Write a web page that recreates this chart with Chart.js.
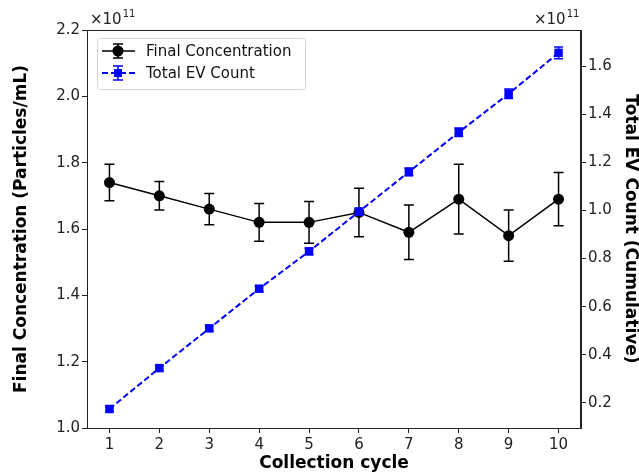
<!DOCTYPE html>
<html>
<head>
<meta charset="utf-8">
<script src="https://cdn.jsdelivr.net/npm/chart.js@4/dist/chart.umd.min.js"></script>
<style>
    html, body { margin: 0; padding: 0; background: #fff; }
    #wrap { width: 639px; height: 472px; }
</style>
</head>
<body>
<div id="wrap"><canvas id="evChart" width="639" height="472"></canvas></div>
<script>
// values are in units of 1e11
const cycles = [1, 2, 3, 4, 5, 6, 7, 8, 9, 10];
const concentration = [1.74, 1.70, 1.66, 1.62, 1.62, 1.65, 1.59, 1.69, 1.58, 1.69];
const concentrationErr = [0.055, 0.043, 0.047, 0.057, 0.063, 0.073, 0.082, 0.105, 0.077, 0.08];
const evCount = [0.175, 0.345, 0.51, 0.675, 0.83, 0.995, 1.16, 1.325, 1.485, 1.655];
const evCountErr = [0.01, 0.011, 0.012, 0.012, 0.013, 0.014, 0.016, 0.018, 0.02, 0.024];
const leftTicks = [1.0, 1.2, 1.4, 1.6, 1.8, 2.0, 2.2];
const rightTicks = [0.2, 0.4, 0.6, 0.8, 1.0, 1.2, 1.4, 1.6];

const FONT = 'DejaVu Sans';
const AXIS = '#222';

// error bars drawn right before each dataset
const errorBars = {
    id: 'errorBars',
    beforeDatasetDraw(chart, args) {
        const ds = chart.data.datasets[args.index];
        if (!ds.errors) return;
        const ctx = chart.ctx;
        const xs = chart.scales.x;
        const ys = chart.scales[ds.yAxisID];
        ctx.save();
        ctx.strokeStyle = ds.borderColor;
        ctx.lineWidth = ds.errWidth;
        ctx.setLineDash([]);
        ds.data.forEach((p, i) => {
            const x = xs.getPixelForValue(p.x);
            const y1 = ys.getPixelForValue(p.y - ds.errors[i]);
            const y2 = ys.getPixelForValue(p.y + ds.errors[i]);
            const c = ds.capHalf;
            ctx.beginPath();
            ctx.moveTo(x, y1); ctx.lineTo(x, y2);
            ctx.moveTo(x - c, y1); ctx.lineTo(x + c, y1);
            ctx.moveTo(x - c, y2); ctx.lineTo(x + c, y2);
            ctx.stroke();
        });
        ctx.restore();
    }
};

// frame, exponent labels and legend box
const decorations = {
    id: 'decorations',
    afterDraw(chart) {
        const ctx = chart.ctx;
        const a = chart.chartArea;
        ctx.save();
        ctx.strokeStyle = AXIS;
        ctx.lineWidth = 1;
        ctx.strokeRect(a.left + 0.5, a.top + 0.5, a.right - a.left - 1, a.bottom - a.top);

        // x10^11 offset labels
        ctx.fillStyle = '#222';
        ctx.textBaseline = 'alphabetic';
        ctx.textAlign = 'left';
        const drawExp = (x) => {
            ctx.font = '15px ' + FONT;
            ctx.fillText('\u00d710', x, 24);
            const w = ctx.measureText('\u00d710').width;
            ctx.font = '10px ' + FONT;
            ctx.fillText('11', x + w + 1, 17);
        };
        drawExp(a.left + 3);
        drawExp(a.right - 47);

        // legend
        const bx = 97, by = 38, bw = 208, bh = 51;
        ctx.beginPath();
        ctx.roundRect(bx + 0.5, by + 0.5, bw, bh, 3);
        ctx.fillStyle = 'rgba(255,255,255,0.85)';
        ctx.fill();
        ctx.strokeStyle = '#d4d4d4';
        ctx.stroke();

        const rows = [
            { label: 'Final Concentration', color: '#000', dash: [], marker: 'circle', y: 51, lw: 1.5 },
            { label: 'Total EV Count', color: '#0000ff', dash: [6, 3], marker: 'rect', y: 73, lw: 2 }
        ];
        rows.forEach(r => {
            ctx.strokeStyle = r.color;
            ctx.fillStyle = r.color;
            ctx.lineWidth = r.lw;
            ctx.setLineDash(r.dash);
            ctx.beginPath();
            ctx.moveTo(102, r.y); ctx.lineTo(135, r.y);
            ctx.stroke();
            ctx.setLineDash([]);
            ctx.lineWidth = 1.5;
            ctx.beginPath();
            ctx.moveTo(118, r.y - 7); ctx.lineTo(118, r.y + 7);
            ctx.moveTo(113, r.y - 7); ctx.lineTo(123, r.y - 7);
            ctx.moveTo(113, r.y + 7); ctx.lineTo(123, r.y + 7);
            ctx.stroke();
            ctx.beginPath();
            if (r.marker === 'circle') ctx.arc(118, r.y, 5.5, 0, Math.PI * 2);
            else ctx.rect(114, r.y - 4, 8, 8);
            ctx.fill();
            ctx.fillStyle = '#111';
            ctx.font = '15px ' + FONT;
            ctx.textBaseline = 'middle';
            ctx.fillText(r.label, 146, r.y + 1);
        });
        ctx.restore();
    }
};

const setTicks = (list) => (scale) => { scale.ticks = list.map(v => ({ value: v })); };

new Chart(document.getElementById('evChart'), {
    type: 'line',
    data: {
        datasets: [
            {
                label: 'Final Concentration',
                data: cycles.map((c, i) => ({ x: c, y: concentration[i] })),
                errors: concentrationErr,
                errWidth: 1.5,
                capHalf: 5,
                yAxisID: 'y',
                borderColor: '#000',
                backgroundColor: '#000',
                borderWidth: 1.5,
                pointStyle: 'circle',
                pointRadius: 5.5,
                pointBorderWidth: 0,
                order: 1
            },
            {
                label: 'Total EV Count',
                data: cycles.map((c, i) => ({ x: c, y: evCount[i] })),
                errors: evCountErr,
                errWidth: 1.5,
                capHalf: 4.5,
                yAxisID: 'y1',
                borderColor: '#0000ff',
                backgroundColor: '#0000ff',
                borderWidth: 2,
                borderDash: [6, 3],
                pointStyle: 'rect',
                pointRadius: 6,
                pointBorderWidth: 0,
                order: 0
            }
        ]
    },
    options: {
        responsive: false,
        animation: false,
        layout: { padding: { top: 30, left: 0, right: 0, bottom: 0 } },
        plugins: {
            legend: { display: false },
            tooltip: { enabled: false }
        },
        scales: {
            x: {
                type: 'linear',
                min: 0.55,
                max: 10.45,
                afterBuildTicks: setTicks(cycles),
                afterFit: (s) => { s.height = 44; },
                ticks: {
                    color: '#222',
                    font: { family: FONT, size: 15 },
                    padding: 3,
                    callback: (v) => String(v)
                },
                grid: { drawOnChartArea: false, drawTicks: true, tickLength: 5, color: AXIS },
                border: { color: AXIS },
                title: {
                    display: true,
                    text: 'Collection cycle',
                    color: '#000',
                    font: { family: FONT, size: 17, weight: 'bold', lineHeight: 1 },
                    padding: { top: 0, bottom: 0 }
                }
            },
            y: {
                position: 'left',
                min: 1.0,
                max: 2.2,
                afterBuildTicks: setTicks(leftTicks),
                afterFit: (s) => { s.width = 87; },
                ticks: {
                    color: '#222',
                    font: { family: FONT, size: 15 },
                    padding: 2,
                    callback: (v) => v.toFixed(1)
                },
                grid: { drawOnChartArea: false, drawTicks: true, tickLength: 5, color: AXIS },
                border: { color: AXIS },
                title: {
                    display: true,
                    text: 'Final Concentration (Particles/mL)',
                    color: '#000',
                    font: { family: FONT, size: 17, weight: 'bold', lineHeight: 1 },
                    padding: { top: 13, bottom: 0 }
                }
            },
            y1: {
                position: 'right',
                min: 0.096,
                max: 1.75,
                afterBuildTicks: setTicks(rightTicks),
                afterFit: (s) => { s.width = 58; },
                ticks: {
                    color: '#222',
                    font: { family: FONT, size: 15 },
                    padding: 2,
                    callback: (v) => v.toFixed(1)
                },
                grid: { drawOnChartArea: false, drawTicks: true, tickLength: 5, color: AXIS },
                border: { color: AXIS },
                title: {
                    display: true,
                    text: 'Total EV Count (Cumulative)',
                    color: '#000',
                    font: { family: FONT, size: 17, weight: 'bold', lineHeight: 1 },
                    padding: { top: 0, bottom: 0 }
                }
            }
        }
    },
    plugins: [errorBars, decorations]
});
</script>
</body>
</html>
